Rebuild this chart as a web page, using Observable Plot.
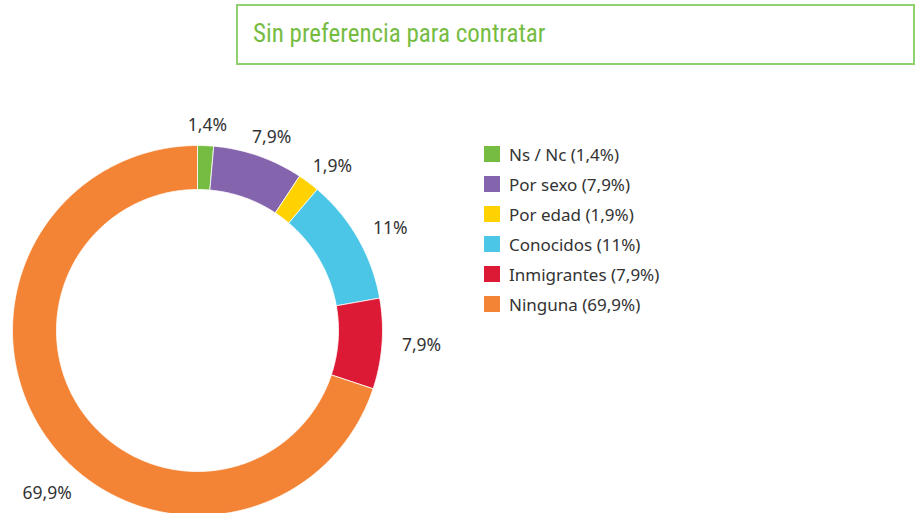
<!DOCTYPE html>
<html>
<head>
<meta charset="utf-8">
<script src="https://cdn.jsdelivr.net/npm/d3@7"></script>
<script src="https://cdn.jsdelivr.net/npm/@observablehq/plot@0.6"></script>
<style>
  html, body { margin: 0; padding: 0; background: #fff; }
  #wrap { position: relative; width: 919px; height: 513px; overflow: hidden; font-family: "Noto Sans", "Open Sans", sans-serif; }
  #title { position: absolute; left: 236px; top: 4px; width: 675px; height: 57px; border: 2px solid #8fd16f; box-sizing: content-box; }
  #title span { position: absolute; left: 15px; top: 13px; font-family: "Liberation Sans Narrow", "Roboto Condensed", "Noto Sans", sans-serif; font-size: 25px; color: #76bc43; white-space: nowrap; }
  #legend { position: absolute; left: 484px; top: 139px; }
  .row { display: flex; align-items: center; height: 30px; font-size: 17px; color: #333; }
  .sw { width: 16px; height: 16px; margin-right: 9px; }
  #chart { position: absolute; left: 0; top: 0; }
</style>
</head>
<body>
<div id="wrap">
  <div id="chart"></div>
  <div id="title"><span>Sin preferencia para contratar</span></div>
  <div id="legend"></div>
</div>
<script>
const categories = ["Ns / Nc", "Por sexo", "Por edad", "Conocidos", "Inmigrantes", "Ninguna"];
const values = [1.4, 7.9, 1.9, 11, 7.9, 69.9];
const valueLabels = ["1,4%", "7,9%", "1,9%", "11%", "7,9%", "69,9%"];
const colors = ["#76bc43", "#8464ac", "#ffd200", "#4bc6e6", "#dc1a35", "#f48435"];

const W = 919, H = 513;
const cx = 197, cy = 330, rOuter = 185, rInner = 141, rLabel = 205;
const labelFont = "17.5px 'Noto Sans', 'Open Sans', sans-serif";

const total = d3.sum(values);
let acc = 0;
const slices = values.map((v, i) => {
  const a0 = acc / total * 2 * Math.PI;
  acc += v;
  const a1 = acc / total * 2 * Math.PI;
  return {i, a0, a1, mid: (a0 + a1) / 2};
});

function arcPoints(s) {
  const n = Math.max(4, Math.ceil((s.a1 - s.a0) / (Math.PI / 360)));
  const pts = [];
  for (let k = 0; k <= n; k++) {
    const a = s.a0 + (s.a1 - s.a0) * k / n;
    pts.push({x: cx + rOuter * Math.sin(a), y: cy - rOuter * Math.cos(a)});
  }
  for (let k = n; k >= 0; k--) {
    const a = s.a0 + (s.a1 - s.a0) * k / n;
    pts.push({x: cx + rInner * Math.sin(a), y: cy - rInner * Math.cos(a)});
  }
  pts.push(pts[0]);
  return pts;
}

const ctx = document.createElement("canvas").getContext("2d");
ctx.font = labelFont;
const labelData = slices.map(s => {
  const text = valueLabels[s.i];
  const w = ctx.measureText(text).width;
  let dx = (rLabel + w / 2) * Math.sin(s.mid);
  let dy = -rLabel * Math.cos(s.mid);
  const minX = 22 + w / 2;
  if (cx + dx < minX) {
    // slide the label along its circle until it fits inside the frame
    const R = Math.hypot(dx, dy);
    dx = minX - cx;
    dy = Math.sign(dy || 1) * Math.sqrt(Math.max(0, R * R - dx * dx));
  }
  return {x: cx + dx, y: cy + dy, text};
});

const chart = Plot.plot({
  width: W, height: H,
  margin: 0,
  x: {domain: [0, W], range: [0, W], axis: null},
  y: {domain: [0, H], range: [0, H], axis: null},
  style: {background: "transparent"},
  marks: [
    ...slices.map(s => Plot.line(arcPoints(s), {x: "x", y: "y", fill: colors[s.i], stroke: "white", strokeWidth: 0.8, curve: "linear"})),
    Plot.text(labelData, {x: "x", y: "y", text: "text", fontSize: 17.5, fill: "#333", textAnchor: "middle", fontFamily: "Noto Sans, Open Sans, sans-serif"})
  ]
});
document.getElementById("chart").appendChild(chart);

const legend = document.getElementById("legend");
categories.forEach((c, i) => {
  const row = document.createElement("div");
  row.className = "row";
  const sw = document.createElement("div");
  sw.className = "sw";
  sw.style.background = colors[i];
  const t = document.createElement("span");
  t.textContent = `${c} (${valueLabels[i]})`;
  row.appendChild(sw);
  row.appendChild(t);
  legend.appendChild(row);
});
</script>
</body>
</html>
